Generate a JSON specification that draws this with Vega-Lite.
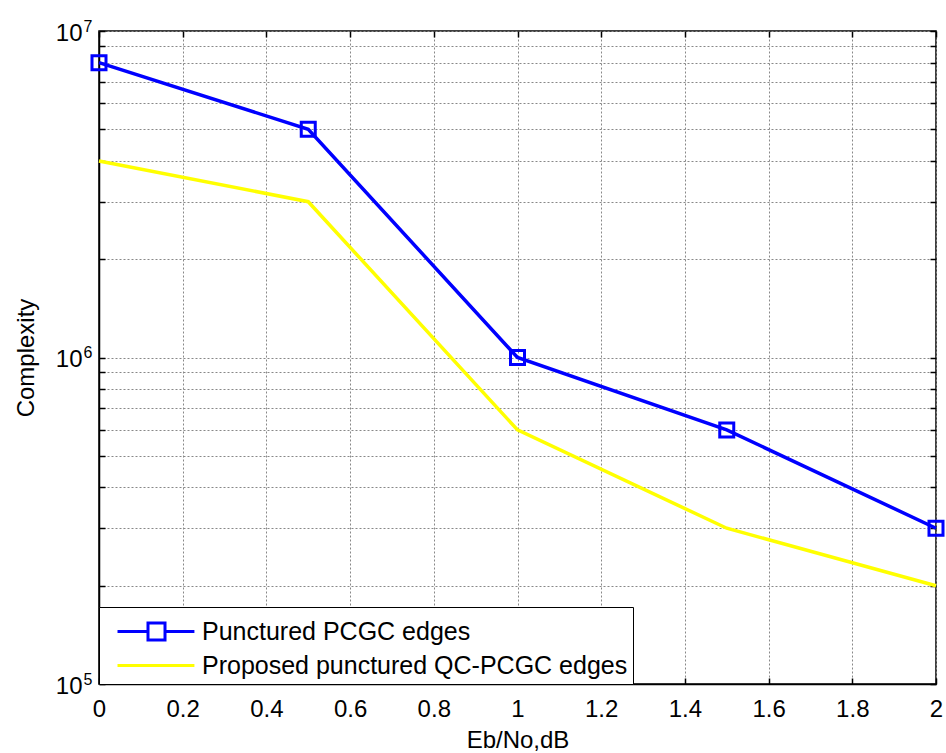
{
  "$schema": "https://vega.github.io/schema/vega-lite/v6.json",
  "width": 837,
  "height": 653,
  "autosize": {"type": "none"},
  "padding": {"left": 99, "top": 31, "right": 10, "bottom": 69},
  "background": "white",
  "config": {
    "font": "Liberation Sans",
    "view": {"stroke": "black", "strokeWidth": 1.5},
    "axis": {
      "labelFont": "Liberation Sans",
      "labelFontSize": 24,
      "labelColor": "black",
      "titleFont": "Liberation Sans",
      "titleFontSize": 24,
      "titleFontWeight": "normal",
      "titleColor": "black",
      "domainColor": "black",
      "domainWidth": 1.5,
      "tickColor": "black",
      "tickWidth": 1.5,
      "gridColor": "#888888",
      "gridDash": [2, 2],
      "gridWidth": 1,
      "gridOpacity": 1,
      "labelFlush": false,
      "labelOverlap": false
    }
  },
  "data": {
    "values": [
      {"ebno": 0, "complexity": 8000000, "series": "Punctured PCGC edges"},
      {"ebno": 0.5, "complexity": 5000000, "series": "Punctured PCGC edges"},
      {"ebno": 1, "complexity": 1000000, "series": "Punctured PCGC edges"},
      {"ebno": 1.5, "complexity": 600000, "series": "Punctured PCGC edges"},
      {"ebno": 2, "complexity": 300000, "series": "Punctured PCGC edges"},
      {"ebno": 0, "complexity": 4000000, "series": "Proposed punctured QC-PCGC edges"},
      {"ebno": 0.5, "complexity": 3000000, "series": "Proposed punctured QC-PCGC edges"},
      {"ebno": 1, "complexity": 600000, "series": "Proposed punctured QC-PCGC edges"},
      {"ebno": 1.5, "complexity": 300000, "series": "Proposed punctured QC-PCGC edges"},
      {"ebno": 2, "complexity": 200000, "series": "Proposed punctured QC-PCGC edges"}
    ]
  },
  "layer": [
    {
      "mark": {"type": "line", "strokeWidth": 3.5},
      "encoding": {
        "x": {
          "field": "ebno",
          "type": "quantitative",
          "scale": {"domain": [0, 2], "nice": false, "zero": false},
          "axis": {
            "orient": "bottom",
            "values": [0, 0.2, 0.4, 0.6, 0.8, 1, 1.2, 1.4, 1.6, 1.8, 2],
            "format": "~g",
            "title": "Eb/No,dB",
            "grid": true,
            "tickSize": -6,
            "labelPadding": 19,
            "titleY": 63,
            "titleBaseline": "alphabetic"
          }
        },
        "y": {
          "field": "complexity",
          "type": "quantitative",
          "scale": {"type": "log", "domain": [100000, 10000000], "nice": false},
          "axis": {
            "orient": "left",
            "values": [100000, 200000, 300000, 400000, 500000, 600000, 700000, 800000, 900000, 1000000, 2000000, 3000000, 4000000, 5000000, 6000000, 7000000, 8000000, 9000000, 10000000],
            "labelExpr": "datum.value == 100000 || datum.value == 1000000 || datum.value == 10000000 ? '10' : ''",
            "labelOffset": 2,
            "title": "Complexity",
            "grid": true,
            "tickSize": -6,
            "labelPadding": 23,
            "titleAngle": -90,
            "titleX": -66,
            "titleY": 326.5,
            "titleBaseline": "alphabetic"
          }
        },
        "color": {
          "field": "series",
          "type": "nominal",
          "scale": {
            "domain": ["Punctured PCGC edges", "Proposed punctured QC-PCGC edges"],
            "range": ["#0000FF", "#FFFF00"]
          },
          "legend": {
            "title": null,
            "orient": "bottom-left",
            "offset": 0,
            "strokeColor": "black",
            "fillColor": "white",
            "padding": 5,
            "rowPadding": 0,
            "labelFont": "Liberation Sans",
            "labelFontSize": 25,
            "labelColor": "black",
            "labelLimit": 600,
            "labelOffset": 59,
            "symbolSize": 1296,
            "symbolStrokeWidth": 3,
            "encode": {
              "symbols": {
                "update": {
                  "shape": {"signal": "datum.value == 'Punctured PCGC edges' ? 'M-0.333,0H1.361M2.306,0H3.94M1.361,-0.472H2.306V0.472H1.361Z' : 'M-0.333,0H3.94'"},
                  "fill": {"value": "transparent"}
                }
              }
            }
          }
        }
      }
    },
    {
      "transform": [{"filter": "datum.series == 'Punctured PCGC edges'"}],
      "mark": {"type": "point", "shape": "square", "filled": false, "size": 196, "strokeWidth": 3, "color": "#0000FF", "opacity": 1},
      "encoding": {
        "x": {
          "field": "ebno",
          "type": "quantitative",
          "axis": {
            "orient": "top",
            "values": [0, 0.2, 0.4, 0.6, 0.8, 1, 1.2, 1.4, 1.6, 1.8, 2],
            "labels": false,
            "title": null,
            "grid": false,
            "domain": false,
            "tickSize": -6
          }
        },
        "y": {
          "field": "complexity",
          "type": "quantitative",
          "axis": {
            "orient": "right",
            "values": [100000, 200000, 300000, 400000, 500000, 600000, 700000, 800000, 900000, 1000000, 2000000, 3000000, 4000000, 5000000, 6000000, 7000000, 8000000, 9000000, 10000000],
            "labels": false,
            "title": null,
            "grid": false,
            "domain": false,
            "tickSize": -6
          }
        }
      }
    },
    {
      "mark": {"type": "point", "opacity": 0, "size": 0},
      "encoding": {
        "x": {"field": "ebno", "type": "quantitative", "axis": null},
        "y": {
          "field": "complexity",
          "type": "quantitative",
          "axis": {
            "orient": "left",
            "values": [100000, 1000000, 10000000],
            "labelExpr": "datum.value == 100000 ? '5' : datum.value == 1000000 ? '6' : '7'",
            "labelFontSize": 16,
            "labelBaseline": "alphabetic",
            "labelPadding": 7,
            "ticks": false,
            "domain": false,
            "grid": false,
            "title": null
          }
        }
      }
    }
  ],
  "resolve": {"axis": {"x": "independent", "y": "independent"}}
}
